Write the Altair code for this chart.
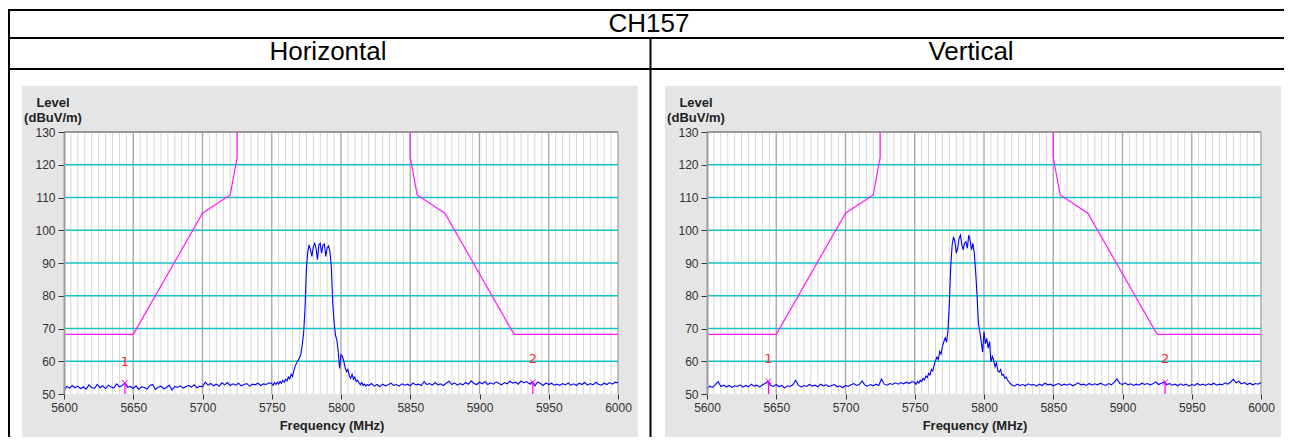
import altair as alt
import pandas as pd

# ---------------- data ----------------
lo_freq = list(range(5600, 5750, 2))
pk_freq = list(range(5750, 5820, 1))
hi_freq = list(range(5820, 6001, 2))

h_lo = [51.0, 52.3, 51.8, 52.6, 51.9, 52.4, 51.6, 52.2, 51.5, 52.8,
        52.0, 51.7, 52.9, 51.9, 52.5, 51.6, 52.7, 52.1, 51.8, 53.1,
        52.2, 52.6, 53.4, 52.0, 52.3, 51.7, 52.5, 51.4, 52.2, 52.0,
        51.5, 52.6, 52.9, 51.4, 52.1, 52.4, 51.6, 52.0, 52.7, 51.2,
        52.3, 52.0, 52.5, 51.8, 52.2, 52.6, 52.1, 52.8, 51.9, 52.4,
        52.2, 53.6, 52.7, 53.2, 52.5, 53.0, 52.4, 53.4, 52.8, 53.5,
        52.6, 53.1, 52.7, 53.3, 52.5, 52.9, 53.2, 52.4, 53.0, 52.8,
        53.3, 52.6, 53.1, 52.9, 53.4]
h_pk = [53.2, 52.6, 53.5, 52.9, 53.6, 53.0, 53.8, 53.3, 54.2, 53.6,
        54.5, 54.0, 55.2, 54.6, 56.0, 55.4, 57.2, 58.6, 59.5, 60.3,
        61.0, 62.0, 65.0, 68.5, 76.0, 88.0, 93.5, 95.5, 94.0, 92.0,
        95.0, 96.0, 94.5, 91.0, 95.5, 96.0, 93.0, 95.5, 95.8, 92.0,
        94.5, 95.2, 93.5, 89.0, 78.0, 72.0, 68.0, 66.5, 63.0, 57.8,
        62.0, 61.5, 60.0, 58.0, 56.8, 57.5, 55.5, 54.8, 56.0, 54.5,
        55.2, 53.8, 54.2, 53.4, 52.8, 53.5, 52.6, 53.0, 52.4, 52.9]
h_hi = [52.6, 53.2, 52.4, 52.9, 52.2, 53.0, 52.5, 52.8, 53.3, 52.6,
        52.9, 52.4, 53.1, 52.7, 53.0, 52.5, 53.4, 52.8, 53.0, 52.6,
        53.8, 52.9, 53.2, 52.7, 53.5, 52.8, 53.1, 52.6, 53.3, 53.9,
        52.9, 53.4, 52.7, 53.2, 52.8, 53.5, 53.0, 54.0, 53.2, 52.9,
        53.6, 53.1, 53.8, 52.9, 53.4, 53.0, 53.7, 53.2, 52.8, 53.5,
        53.1, 53.9, 53.3, 53.6, 53.0, 54.0, 53.4, 53.8, 53.1, 53.6,
        52.5, 53.7, 53.2, 52.6, 53.4, 52.9, 53.3, 52.7, 53.0, 52.6,
        53.2, 52.8, 53.4, 52.7, 53.1, 52.6, 53.3, 52.9, 53.5, 52.7,
        53.2, 52.8, 53.6, 53.0, 52.7, 53.3, 52.9, 53.5, 53.0, 53.6,
        53.4]

v_lo = [51.6, 52.4, 52.0, 52.9, 53.8, 52.3, 52.7, 52.2, 52.6, 52.0,
        52.5, 52.3, 52.8, 52.1, 52.6, 52.2, 53.0, 52.4, 52.7, 52.1,
        52.8, 53.2, 53.9, 52.6, 52.3, 52.9, 52.2, 52.6, 51.8, 52.5,
        52.3, 52.8, 54.2, 52.7, 52.1, 52.6, 52.3, 52.9, 52.4, 52.7,
        52.2, 53.0, 52.5, 52.8, 52.3, 52.6, 52.9, 52.2, 52.5, 51.9,
        52.6, 52.3, 52.8, 53.2, 52.6, 52.9, 54.0, 52.7, 52.4, 52.9,
        52.5, 53.0, 52.6, 54.6, 53.0, 52.7, 53.2, 52.9, 53.4, 53.0,
        53.5, 53.1, 53.6, 53.2, 53.8]
v_pk = [53.5, 53.0, 53.9, 53.3, 54.2, 53.8, 54.8, 54.3, 55.5, 55.0,
        56.3, 55.8, 57.5, 57.0, 58.8, 60.2, 61.3, 60.5, 63.0, 62.2,
        64.5, 66.0, 67.2, 65.8, 69.5, 78.0, 89.0, 95.5, 98.0, 96.5,
        93.0, 94.5, 97.5, 98.5, 95.5, 94.0, 96.0, 96.5, 94.5, 98.5,
        97.0, 94.0, 96.0, 93.0, 87.0, 80.0, 71.5, 69.0, 66.0, 62.8,
        69.0, 65.4, 67.0, 64.0, 66.0, 59.8, 61.5, 60.3, 58.3, 59.5,
        57.0, 56.7, 57.5, 55.7, 56.0, 54.8, 55.2, 54.2, 53.8, 53.2]
v_hi = [52.8, 52.4, 53.0, 52.6, 52.9, 52.5, 53.1, 52.7, 52.9, 52.4,
        53.0, 52.6, 53.3, 52.8, 53.0, 52.5, 52.9, 53.2, 52.6, 53.0,
        52.7, 53.1, 52.5, 52.9, 53.4, 52.8, 53.0, 52.6, 53.2, 52.7,
        53.1, 52.8, 53.3, 52.9, 52.6, 53.2, 52.8, 53.6, 54.6, 53.2,
        52.9, 53.4, 52.8, 53.1, 52.6, 53.0, 52.7, 53.3, 52.9, 53.2,
        52.8, 53.1, 53.7, 52.9, 53.3, 53.6, 52.8, 53.2, 52.7, 53.0,
        52.5, 53.1, 52.6, 53.0, 52.4, 52.9, 52.6, 53.2, 52.7, 53.0,
        52.6, 53.1, 52.8, 53.3, 52.7, 53.0, 52.8, 53.4, 53.0, 53.6,
        54.5, 53.4, 53.9, 53.1, 53.5, 52.9, 53.3, 52.8, 53.2, 53.0,
        53.5]

limit_lo_freq = [5600, 5650, 5700, 5720, 5725, 5725]
limit_lo_level = [68.2, 68.2, 105.2, 110.8, 122.2, 130.0]
limit_hi_freq = [5850, 5850, 5855, 5875, 5925, 6000]
limit_hi_level = [130.0, 122.2, 110.8, 105.2, 68.2, 68.2]

marker_names = ["1", "2"]
h_marker_freq = [5644.0, 5938.5]
h_marker_level = [53.4, 53.6]
h_marker_label = [59.8, 60.6]
v_marker_freq = [5644.4, 5930.8]
v_marker_level = [53.9, 53.6]
v_marker_label = [60.8, 60.8]

x_ticks = list(range(5600, 6001, 50))
y_ticks = list(range(50, 131, 10))
minor_grid = [f for f in range(5605, 6000, 5) if f % 50 != 0]
major_grid = list(range(5650, 6001, 50))
cyan_grid = list(range(60, 121, 10))

# ---------------- layout ----------------
PW, PH = 554, 262
FONT = "Liberation Sans"
XS = alt.Scale(domain=[5600, 6000], nice=False, zero=False)
YS = alt.Scale(domain=[50, 130], nice=False, zero=False)
one = pd.DataFrame({"k": [0]})

xaxis = alt.Axis(values=x_ticks, title=None, grid=False, domain=False,
                 tickColor="#333333", tickSize=5, tickWidth=1,
                 labelFont=FONT, labelFontSize=12, labelColor="#333333",
                 labelPadding=3, labelFlush=False, labelOverlap=False,
                 zindex=1, format="d")
yaxis = alt.Axis(values=y_ticks, title=None, grid=False, domain=True,
                 domainColor="#9a9a9a", domainWidth=2,
                 tickColor="#333333", tickSize=6, tickWidth=1,
                 labelFont=FONT, labelFontSize=12, labelColor="#333333",
                 labelPadding=3, labelFlush=False, labelOverlap=False,
                 zindex=1, format="d")


def xq(field="f"):
    return alt.X(f"{field}:Q", scale=XS, axis=xaxis)


def yq(field="v"):
    return alt.Y(f"{field}:Q", scale=YS, axis=yaxis)


def vline(x, y1, y2, color="black", w=2):
    return alt.Chart(one).mark_rule(color=color, strokeWidth=w).encode(
        x=alt.value(x), y=alt.value(y1), y2=alt.value(y2))


def hline(y, x1, x2, color="black", w=2):
    return alt.Chart(one).mark_rule(color=color, strokeWidth=w).encode(
        y=alt.value(y), x=alt.value(x1), x2=alt.value(x2))


def label(txt, x, y, size, bold=False, color="black"):
    return alt.Chart(one).mark_text(
        text=txt, font=FONT, fontSize=size,
        fontWeight="bold" if bold else "normal", color=color,
        align="center", baseline="alphabetic").encode(
        x=alt.value(x), y=alt.value(y))


def panel(freqs, levels, mfreq, mlevel, mlabel, heading, left):
    trace = pd.DataFrame({"f": freqs, "v": levels})
    limits = pd.DataFrame({
        "f": limit_lo_freq + limit_hi_freq,
        "v": limit_lo_level + limit_hi_level,
        "seg": ["lo"] * len(limit_lo_freq) + ["hi"] * len(limit_hi_freq),
        "i": list(range(len(limit_lo_freq) + len(limit_hi_freq))),
    })
    markers = pd.DataFrame({"f": mfreq, "v": mlevel, "lv": mlabel,
                            "name": marker_names})
    layers = [
        alt.Chart(one).mark_rect(color="#e5e5e5").encode(
            x=alt.value(-42), x2=alt.value(PW + 20),
            y=alt.value(-46), y2=alt.value(305)),
        alt.Chart(one).mark_rect(color="white").encode(
            x=alt.value(0), x2=alt.value(PW), y=alt.value(0), y2=alt.value(PH)),
        alt.Chart(pd.DataFrame({"f": minor_grid})).mark_rule(
            color="#d6d6d6", strokeWidth=1).encode(
            x=xq(), y=alt.value(0), y2=alt.value(PH)),
        alt.Chart(pd.DataFrame({"f": major_grid})).mark_rule(
            color="#a8a8a8", strokeWidth=1.4).encode(
            x=xq(), y=alt.value(0), y2=alt.value(PH)),
        alt.Chart(pd.DataFrame({"v": cyan_grid})).mark_rule(
            color="#14c4c4", strokeWidth=1.6).encode(
            y=yq(), x=alt.value(0), x2=alt.value(PW)),
        alt.Chart(pd.DataFrame({"v": [130]})).mark_rule(
            color="#9a9a9a", strokeWidth=2).encode(
            y=yq(), x=alt.value(0), x2=alt.value(PW)),
        alt.Chart(limits).mark_line(color="#ff1aff", strokeWidth=1.2).encode(
            x=xq(), y=yq(), detail="seg:N", order="i:Q"),
        alt.Chart(trace).mark_line(color="#0000ff", strokeWidth=1.1).encode(
            x=xq(), y=yq()),
        alt.Chart(markers).mark_rule(color="#ff00ff", strokeWidth=1.2).encode(
            x=xq(), y=yq(), y2=alt.datum(50)),
        alt.Chart(markers).mark_point(
            shape="M-1,-1L1,1M-1,1L1,-1", filled=False, color="#ff00ff",
            size=30, strokeWidth=1, opacity=1).encode(x=xq(), y=yq()),
        alt.Chart(markers).mark_text(
            color="#ff2a2a", font="DejaVu Sans", fontSize=13,
            baseline="middle").encode(x=xq(), y=yq("lv"), text="name:N"),
        label("Level", -11, -25, 13, bold=True, color="#222222"),
        label("(dBuV/m)", -11, -10, 13, bold=True, color="#222222"),
        label("Frequency (MHz)", 268, 298, 13, bold=True, color="#222222"),
        label(heading, 264, -72.5, 26),
    ]
    if left:
        layers += [
            hline(-122, -55, 1220),
            hline(-94, -55, 1220),
            hline(-63, -55, 1220),
            vline(-55, -123, 305),
            vline(586.5, -94, 305),
            label("CH157", 585, -100.5, 26),
        ]
    return alt.layer(*layers).properties(width=PW, height=PH)


left = panel(lo_freq + pk_freq + hi_freq, h_lo + h_pk + h_hi,
             h_marker_freq, h_marker_level, h_marker_label, "Horizontal", True)
right = panel(lo_freq + pk_freq + hi_freq, v_lo + v_pk + v_hi,
              v_marker_freq, v_marker_level, v_marker_label, "Vertical", False)

chart = alt.hconcat(left, right, spacing=89, bounds="flush",
                    padding=0, background="white").configure_view(strokeWidth=0)

chart.save("out.html", embed_options={"renderer": "svg", "actions": False})
